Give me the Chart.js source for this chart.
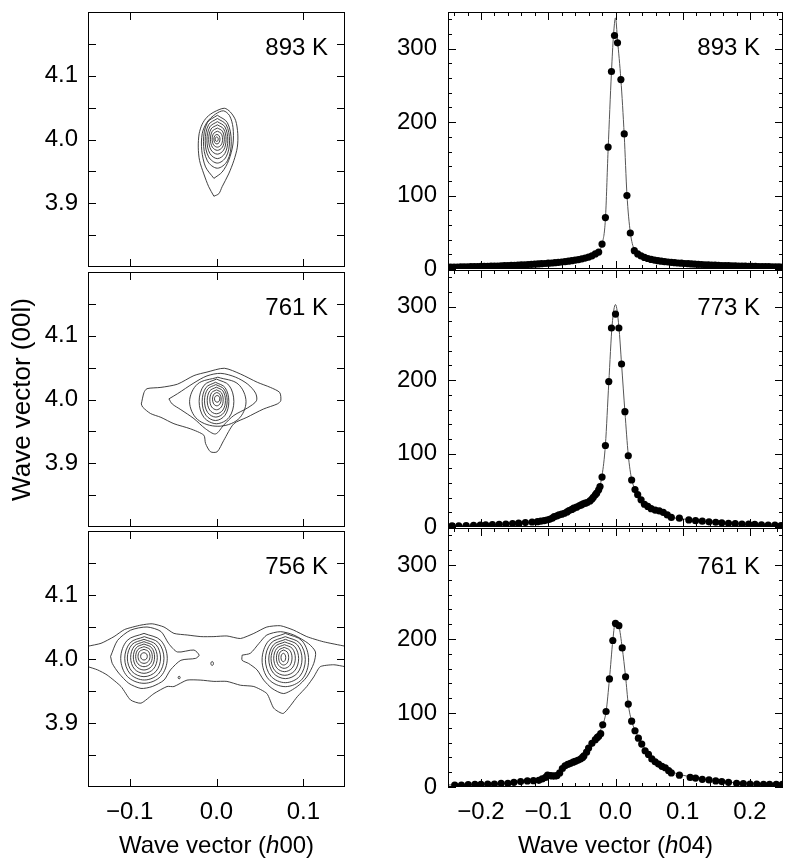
<!DOCTYPE html>
<html>
<head>
<meta charset="utf-8">
<script src="https://cdn.jsdelivr.net/npm/chart.js@4.4.0/dist/chart.umd.min.js"></script>
<style>
  html, body { margin: 0; padding: 0; background: #fff; }
  #wrap { position: relative; width: 787px; height: 859px; }
  #wrap canvas { position: absolute; left: 0; top: 0; }
</style>
</head>
<body>
<div id="wrap">
  <canvas id="map893" width="787" height="859"></canvas>
  <canvas id="map761" width="787" height="859"></canvas>
  <canvas id="map756" width="787" height="859"></canvas>
  <canvas id="scan893" width="787" height="859"></canvas>
  <canvas id="scan773" width="787" height="859"></canvas>
  <canvas id="scan761" width="787" height="859"></canvas>
</div>
<script>
// Scansioni (h04): punti misurati
const scan893X = [-0.250,-0.245,-0.240,-0.235,-0.230,-0.225,-0.220,-0.215,-0.210,-0.205,
  -0.200,-0.195,-0.190,-0.185,-0.180,-0.175,-0.170,-0.165,-0.160,-0.155,
  -0.150,-0.145,-0.140,-0.135,-0.130,-0.125,-0.120,-0.115,-0.110,-0.105,
  -0.100,-0.095,-0.090,-0.085,-0.080,-0.075,-0.070,-0.065,-0.060,-0.055,
  -0.050,-0.045,-0.040,-0.035,-0.030,
  -0.025,-0.020,-0.015,-0.011,-0.006,-0.0015,0.003,0.008,0.013,0.017,0.022,0.028,
  0.033,0.038,0.043,0.048,0.053,0.058,0.063,0.068,0.073,0.078,
  0.083,0.088,0.093,0.098,0.103,0.108,0.113,0.118,0.123,0.128,
  0.133,0.138,0.143,0.148,0.153,0.158,0.163,0.168,0.173,0.178,
  0.183,0.188,0.193,0.198,0.203,0.208,0.213,0.218,0.223,0.228,
  0.233,0.238,0.243,0.248];
const scan893Y = [2.5,2.5,2.6,2.7,2.8,2.9,3.0,3.1,3.2,3.3,
  3.5,3.6,3.7,3.8,4.0,4.1,4.3,4.5,4.7,4.9,
  5.1,5.3,5.5,5.8,6.0,6.3,6.6,6.9,7.2,7.5,
  7.9,8.2,8.6,9.0,9.5,10.0,10.6,11.3,12.0,12.8,
  13.8,14.9,16.2,18.0,20.5,
  23,34,70,166,269,318,308,258,184,100,49,25,
  20.5,17.8,15.8,14.3,13.1,12.1,11.3,10.6,10.0,9.5,
  9.0,8.6,8.2,7.9,7.5,7.2,6.9,6.6,6.3,6.1,
  5.8,5.6,5.4,5.2,5.0,4.8,4.6,4.5,4.3,4.2,
  4.0,3.9,3.8,3.7,3.6,3.5,3.4,3.3,3.2,3.1,
  3.0,2.9,2.8,2.7];
const fit893X = [-0.25,-0.15,-0.1,-0.06,-0.04,-0.03,-0.025,-0.02,-0.015,-0.011,-0.006,-0.003,0,0.003,0.008,0.013,0.017,0.022,0.028,0.035,0.05,0.1,0.15,0.25];
const fit893Y = [2.5,5,7.9,12,16,20.5,24,34,68,162,268,318,342,312,258,182,102,50,26,19,13.5,7.6,5.2,2.7];

const scan773X = [-0.243,-0.233,-0.222,-0.211,-0.201,-0.193,-0.183,-0.173,-0.163,-0.153,-0.144,-0.134,-0.124,-0.116,-0.111,-0.106,-0.102,-0.098,-0.094,-0.091,
  -0.087,-0.084,-0.080,-0.076,-0.072,-0.069,-0.065,-0.062,-0.058,-0.054,-0.051,-0.048,-0.045,-0.042,-0.038,-0.035,-0.033,-0.030,-0.028,-0.025,
  -0.023,-0.020,-0.015,-0.010,-0.006,0.000,0.005,0.009,0.014,0.019,0.024,0.029,0.033,0.038,0.043,0.048,0.053,0.059,0.065,0.071,
  0.077,0.083,0.095,0.109,0.119,0.129,0.139,0.149,0.158,0.168,0.178,0.188,0.198,0.207,0.217,0.227,0.237,0.246];
const scan773Y = [1.5,1.7,2.0,2.2,2.5,2.8,3.1,3.5,4.0,4.6,5.2,6.0,6.8,7.3,8.0,8.7,9.5,10.5,12,14,
  15.2,16.4,17.5,18.7,20.5,22.4,24,25.6,27,28.8,30,31.5,32.5,33.3,35.5,38,40.5,43.8,46,50.7,
  55,68,111,198,271,290,271,222,157,97,64,51,44,37,31,28,25,23,22,20,
  16.5,13,12,9.6,8.6,8,7,6.5,5.8,5,4.5,4,3.8,3.5,3,2.5,2.5,2];
const fit773X = [-0.25,-0.15,-0.1,-0.07,-0.05,-0.035,-0.025,-0.02,-0.015,-0.01,-0.005,0,0.005,0.009,0.014,0.019,0.024,0.03,0.04,0.06,0.08,0.1,0.15,0.25];
const fit773Y = [1.5,4.8,10,21,30,38,51,70,112,196,275,303,273,222,157,98,65,50,35,23,14,11,6.2,2];

const scan761X = [-0.239,-0.229,-0.219,-0.209,-0.200,-0.190,-0.180,-0.170,-0.160,-0.151,-0.141,-0.131,-0.122,-0.114,-0.109,-0.104,-0.101,-0.097,-0.094,-0.090,
  -0.087,-0.083,-0.079,-0.075,-0.071,-0.067,-0.063,-0.060,-0.056,-0.052,-0.049,-0.047,-0.043,-0.040,-0.035,-0.030,-0.027,-0.025,-0.022,-0.019,
  -0.014,-0.009,-0.004,0.000,0.005,0.010,0.015,0.019,0.024,0.029,0.034,0.039,0.044,0.049,0.054,0.059,0.064,0.069,0.074,0.079,
  0.083,0.095,0.111,0.119,0.129,0.139,0.149,0.158,0.168,0.180,0.190,0.200,0.210,0.220,0.229,0.239,0.248];
const scan761Y = [2.7,2.7,3.2,3.6,3.6,4,4,5,5,6.3,7.3,8.2,8.6,9,10.9,13,16,15.5,15,15,
  15.5,19,25,28.6,30.5,32,33.5,34.5,36,37.7,40,42,47,52.6,59,64,67,68.5,72,84,
  102,146,198,221,218,188,149,112,89,76,66,58,49,44,38,34,31,28,26,22,
  19,16,13,12,10.4,9.5,8.2,7.3,6.3,5,4.5,4,4,3.6,3.6,3.6,3.6];
const fit761X = [-0.25,-0.15,-0.11,-0.1,-0.09,-0.08,-0.06,-0.04,-0.03,-0.02,-0.014,-0.009,-0.004,0,0.005,0.01,0.015,0.019,0.024,0.03,0.04,0.06,0.08,0.1,0.15,0.25];
const fit761Y = [2.7,6.3,11,15.5,15.5,22,34.5,52,64,82,102,146,198,224,218,188,149,112,89,75,57,34,22,16,8,3.6];

// Mappe (h0l): contorni esterni come punti, anelli interni come estremi [sx, dx, alto, basso]
const map893Outer = [[-0.003,3.911],[-0.009,3.926],[-0.0146,3.946],[-0.0195,3.967],[-0.021,3.988],[-0.020,4.009],[-0.0165,4.024],[-0.011,4.035],[-0.003,4.043],[0.009,4.049],[0.016,4.043],[0.022,4.030],[0.0245,4.009],[0.024,3.988],[0.020,3.967],[0.014,3.946],[0.0065,3.926],[0.0027,3.915],[-0.003,3.911]];
const map893Second = [[-0.003,3.939],[-0.0126,3.957],[-0.017,3.983],[-0.0165,4.009],[-0.011,4.027],[-0.001,4.040],[0.008,4.045],[0.015,4.0375],[0.019,4.019],[0.019,3.993],[0.014,3.967],[0.0065,3.949],[-0.003,3.939]];
const map893Rings = [[-0.015,0.017,4.038,3.955],[-0.013,0.015,4.033,3.963],[-0.011,0.013,4.028,3.970],[-0.009,0.011,4.023,3.977],
  [-0.007,0.009,4.018,3.983],[-0.005,0.007,4.013,3.988],[-0.003,0.004,4.008,3.993],[-0.0015,0.002,4.004,3.997]];

const map761Outer = [[-0.0866,3.993],[-0.0835,4.011],[-0.080,4.017],[-0.064,4.019],[-0.045,4.024],[-0.026,4.0375],[-0.011,4.043],[0.009,4.049],[0.0276,4.040],[0.047,4.027],[0.062,4.019],[0.0728,4.011],[0.074,3.998],[0.070,3.993],[0.054,3.985],[0.035,3.972],[0.020,3.962],[0.0084,3.936],[0.0008,3.918],[-0.0069,3.918],[-0.0126,3.931],[-0.0146,3.944],[-0.030,3.954],[-0.049,3.962],[-0.064,3.972],[-0.076,3.978],[-0.085,3.988],[-0.0866,3.993]];
const map761Second = [[-0.0548,4.001],[-0.045,4.009],[-0.026,4.026],[-0.011,4.037],[0.005,4.041],[0.022,4.035],[0.036,4.024],[0.045,4.010],[0.046,3.998],[0.036,3.987],[0.020,3.975],[0.0084,3.960],[-0.0011,3.946],[-0.0126,3.954],[-0.026,3.970],[-0.041,3.984],[-0.051,3.993],[-0.0548,4.001]];
const map761Rings = [[-0.031,0.034,4.035,3.958],[-0.020,0.020,4.032,3.962],[-0.0165,0.0142,4.027,3.967],[-0.0138,0.0123,4.0234,3.9724],
  [-0.0107,0.0103,4.0193,3.9776],[-0.0077,0.0077,4.0151,3.9839],[-0.0046,0.0054,4.011,3.9901],[-0.0023,0.0038,4.0063,3.9958]];

const map756Band = [[-0.148,4.020],[-0.133,4.0245],[-0.118,4.035],[-0.106,4.046],[-0.087,4.053],[-0.074,4.055],[-0.0605,4.050],[-0.049,4.040],[-0.0337,4.0375],[-0.018,4.035],[-0.003,4.035],[0.012,4.036],[0.0276,4.032],[0.043,4.040],[0.058,4.050],[0.0736,4.052],[0.089,4.045],[0.104,4.035],[0.123,4.027],[0.148,4.020]];
const map756BandLow = [[0.148,3.988],[0.135,3.991],[0.1195,3.988],[0.112,3.972],[0.104,3.957],[0.093,3.941],[0.077,3.915],[0.066,3.923],[0.058,3.946],[0.043,3.957],[0.0276,3.959],[0.012,3.965],[-0.003,3.965],[-0.018,3.967],[-0.034,3.967],[-0.049,3.957],[-0.057,3.957],[-0.072,3.946],[-0.087,3.931],[-0.099,3.936],[-0.110,3.957],[-0.126,3.975],[-0.137,3.983],[-0.148,3.988]];
const map756LeftSecond = [[-0.122,4.004],[-0.114,4.029],[-0.099,4.045],[-0.080,4.050],[-0.064,4.043],[-0.055,4.024],[-0.045,4.011],[-0.026,4.014],[-0.020,4.006],[-0.024,4.001],[-0.041,3.998],[-0.053,3.983],[-0.0605,3.967],[-0.074,3.957],[-0.087,3.954],[-0.101,3.962],[-0.1126,3.978],[-0.12,3.993],[-0.122,4.004]];
const map756RightSecond = [[0.0295,4.006],[0.039,4.009],[0.0487,4.024],[0.058,4.0375],[0.0736,4.0427],[0.089,4.0375],[0.106,4.024],[0.114,4.011],[0.112,3.993],[0.104,3.972],[0.093,3.957],[0.0774,3.946],[0.064,3.954],[0.0544,3.967],[0.0467,3.983],[0.037,3.993],[0.0295,3.998],[0.0295,4.006]];
const map756Rings = [[-0.1103,-0.0567,4.040,3.962],[-0.1057,-0.0605,4.0349,3.9672],[-0.1027,-0.0644,4.0307,3.9724],[-0.0989,-0.0682,4.0271,3.9776],
  [-0.0958,-0.0713,4.0234,3.9828],[-0.0931,-0.0739,4.0193,3.988],[-0.0904,-0.0766,4.0151,3.9932],[-0.0874,-0.0797,4.0099,3.9984],
  [0.0525,0.1061,4.040,3.9568],[0.0563,0.1023,4.0349,3.963],[0.0602,0.0985,4.0307,3.9693],[0.0628,0.0946,4.0266,3.9745],
  [0.0659,0.0908,4.0224,3.9802],[0.069,0.087,4.0182,3.9854],[0.0716,0.0831,4.0141,3.9906],[0.0743,0.0797,4.0089,3.9958],
  [-0.0065,-0.0035,3.996,3.990],[-0.0442,-0.0418,3.973,3.969]];

// Tacche degli assi
const leftXTicks = [-0.1, 0, 0.1];
const leftYTicks = [3.85, 3.9, 3.95, 4.0, 4.05, 4.1, 4.15];
const leftYLabels = [3.9, 4.0, 4.1];
const rightXTicks = [-0.24,-0.22,-0.2,-0.18,-0.16,-0.14,-0.12,-0.1,-0.08,-0.06,-0.04,-0.02,0,0.02,0.04,0.06,0.08,0.1,0.12,0.14,0.16,0.18,0.2,0.22,0.24];
const rightXLabels = [-0.2, -0.1, 0, 0.1, 0.2];
const rightYTicks = [0,20,40,60,80,100,120,140,160,180,200,220,240,260,280,300,320,340];
const rightYLabels = [0, 100, 200, 300];

const FONT = '"Liberation Sans", Arial, Helvetica, sans-serif';

function hasVal(list, v) { return list.some(m => Math.abs(m - v) < 1e-9); }
function toPts(xs, ys) { return xs.map((x, i) => ({ x: x, y: ys[i] })); }
function listPts(list) { return list.map(p => ({ x: p[0], y: p[1] })); }
// anello chiuso a partire dagli estremi letti
function ringPts(e) {
  const cx = (e[0] + e[1]) / 2, cy = (e[2] + e[3]) / 2;
  const hx = (e[1] - e[0]) / 2, hy = (e[2] - e[3]) / 2, k = 0.72;
  return [
    { x: cx, y: e[2] }, { x: cx + k * hx, y: cy + k * hy }, { x: e[1], y: cy },
    { x: cx + k * hx, y: cy - k * hy }, { x: cx, y: e[3] }, { x: cx - k * hx, y: cy - k * hy },
    { x: e[0], y: cy }, { x: cx - k * hx, y: cy + k * hy }, { x: cx, y: e[2] }
  ];
}

function contour(pts, tension) {
  return { data: pts, showLine: true, pointRadius: 0, borderColor: '#2b2b2b', borderWidth: 0.9, tension: tension, fill: false };
}
function scanSets(xs, ys, fx, fy) {
  return [
    { data: toPts(xs, ys), showLine: false, pointRadius: 3.6, pointBackgroundColor: '#000', pointBorderWidth: 0 },
    { data: toPts(fx, fy), showLine: true, pointRadius: 0, borderColor: '#555', borderWidth: 1, cubicInterpolationMode: 'monotone' }
  ];
}

// Cornice, tacche interne, etichetta della temperatura, titolo asse x
function framePlugin(cfg) {
  return {
    id: 'frame',
    afterDraw(chart) {
      const a = chart.chartArea, ctx = chart.ctx;
      const sx = chart.scales.x, sy = chart.scales.y;
      ctx.save();
      ctx.strokeStyle = '#000';
      ctx.lineWidth = 1;
      ctx.strokeRect(a.left + 0.5, a.top + 0.5, a.right - a.left - 1, a.bottom - a.top - 1);
      ctx.beginPath();
      cfg.xTicks.forEach(v => {
        const p = Math.round(sx.getPixelForValue(v)) + 0.5;
        const len = hasVal(cfg.xMajor, v) ? cfg.majorLen : cfg.minorLen;
        ctx.moveTo(p, a.top); ctx.lineTo(p, a.top + len);
        ctx.moveTo(p, a.bottom); ctx.lineTo(p, a.bottom - len);
      });
      cfg.yTicks.forEach(v => {
        const p = Math.round(sy.getPixelForValue(v)) + 0.5;
        const len = hasVal(cfg.yMajor, v) ? cfg.majorLen : cfg.minorLen;
        ctx.moveTo(a.left, p); ctx.lineTo(a.left + len, p);
        ctx.moveTo(a.right, p); ctx.lineTo(a.right - len, p);
      });
      ctx.stroke();
      ctx.fillStyle = '#000';
      ctx.font = '24px ' + FONT;
      ctx.textAlign = 'right';
      ctx.textBaseline = 'alphabetic';
      ctx.fillText(cfg.label, a.right - cfg.labelInset, a.top + cfg.labelDy);
      if (cfg.xTitle) {
        const parts = cfg.xTitle;
        let w = 0;
        parts.forEach(p => { ctx.font = p[1] + ' 24px ' + FONT; w += ctx.measureText(p[0]).width; });
        let x = (a.left + a.right) / 2 - w / 2;
        ctx.textAlign = 'left';
        parts.forEach(p => {
          ctx.font = p[1] + ' 24px ' + FONT;
          ctx.fillText(p[0], x, 853);
          x += ctx.measureText(p[0]).width;
        });
      }
      ctx.restore();
    }
  };
}

function makePanel(id, p) {
  new Chart(document.getElementById(id), {
    type: 'scatter',
    data: { datasets: p.datasets },
    options: {
      responsive: false,
      animation: false,
      events: [],
      layout: { padding: p.pad },
      plugins: { legend: { display: false }, tooltip: { enabled: false } },
      scales: {
        x: {
          type: 'linear', min: p.xMin, max: p.xMax, display: p.showX,
          afterBuildTicks: s => { s.ticks = p.xTicks.map(v => ({ value: v })); },
          afterFit: s => { s.height = p.showX ? 72 : 0; s.paddingLeft = 0; s.paddingRight = 0; },
          grid: { display: false, drawTicks: false },
          border: { display: false },
          ticks: {
            autoSkip: false, maxRotation: 0, padding: 11, color: '#000',
            font: { family: FONT, size: 24 },
            callback: v => hasVal(p.xLabels, v) ? (v < -1e-9 ? '\u2212' : '') + Math.abs(v).toFixed(1) : ''
          }
        },
        y: {
          type: 'linear', min: p.yMin, max: p.yMax,
          afterBuildTicks: s => { s.ticks = p.yTicks.map(v => ({ value: v })); },
          afterFit: s => { s.width = p.yWidth; s.paddingTop = 0; s.paddingBottom = 0; },
          grid: { display: false, drawTicks: false },
          border: { display: false },
          title: {
            display: !!p.yTitle, text: p.yTitle || '', color: '#000',
            font: { family: FONT, size: 26 }, padding: { top: 7, bottom: 0 }
          },
          ticks: {
            autoSkip: false, padding: p.yPad, color: '#000',
            font: { family: FONT, size: 24 },
            callback: v => hasVal(p.yLabels, v) ? p.yFormat(v) : ''
          }
        }
      }
    },
    plugins: [framePlugin({
      xTicks: p.xTicks, xMajor: p.xMajor, yTicks: p.yTicks, yMajor: p.yMajor,
      majorLen: 8, minorLen: p.minorLen, label: p.label, labelInset: p.labelInset,
      labelDy: p.labelDy, xTitle: p.xTitle
    })]
  });
}

const leftBase = {
  xMin: -0.148, xMax: 0.148, yMin: 3.8, yMax: 4.2,
  xTicks: leftXTicks, xMajor: leftXTicks, xLabels: leftXTicks,
  yTicks: leftYTicks, yMajor: leftYTicks, yLabels: leftYLabels,
  yWidth: 88, yPad: 10, minorLen: 8, labelInset: 17, labelDy: 43,
  yFormat: v => v.toFixed(1)
};
const rightBase = {
  xMin: -0.249, xMax: 0.249, yMin: 0, yMax: 350,
  xTicks: rightXTicks, xMajor: rightXLabels, xLabels: rightXLabels,
  yTicks: rightYTicks, yMajor: rightYLabels, yLabels: rightYLabels,
  yWidth: 80, yPad: 11, minorLen: 4, labelInset: 23, labelDy: 43,
  yFormat: v => String(v)
};

makePanel('map893', Object.assign({}, leftBase, {
  pad: { left: 0, right: 442, top: 12, bottom: 592 }, showX: false, label: '893 K',
  datasets: [contour(listPts(map893Outer), 0.3), contour(listPts(map893Second), 0.3)]
    .concat(map893Rings.map(e => contour(ringPts(e), 0.35)))
}));
makePanel('map761', Object.assign({}, leftBase, {
  pad: { left: 0, right: 442, top: 272, bottom: 332 }, showX: false, label: '761 K',
  yTitle: 'Wave vector (00l)',
  datasets: [contour(listPts(map761Outer), 0.25), contour(listPts(map761Second), 0.3)]
    .concat(map761Rings.map(e => contour(ringPts(e), 0.35)))
}));
makePanel('map756', Object.assign({}, leftBase, {
  pad: { left: 0, right: 442, top: 531, bottom: 0 }, showX: true, label: '756 K',
  xTitle: [['Wave vector (', 'normal'], ['h', 'italic'], ['00)', 'normal']],
  datasets: [contour(listPts(map756Band), 0.2), contour(listPts(map756BandLow), 0.2),
    contour(listPts(map756LeftSecond), 0.25), contour(listPts(map756RightSecond), 0.25)]
    .concat(map756Rings.map(e => contour(ringPts(e), 0.35)))
}));

makePanel('scan893', Object.assign({}, rightBase, {
  pad: { left: 368, right: 1, top: 12, bottom: 590 }, showX: false, label: '893 K',
  datasets: scanSets(scan893X, scan893Y, fit893X, fit893Y)
}));
makePanel('scan773', Object.assign({}, rightBase, {
  pad: { left: 368, right: 1, top: 270, bottom: 332 }, showX: false, label: '773 K', labelDy: 45,
  datasets: scanSets(scan773X, scan773Y, fit773X, fit773Y)
}));
makePanel('scan761', Object.assign({}, rightBase, {
  pad: { left: 368, right: 1, top: 528, bottom: 0 }, showX: true, label: '761 K', labelDy: 46,
  xTitle: [['Wave vector (', 'normal'], ['h', 'italic'], ['04)', 'normal']],
  datasets: scanSets(scan761X, scan761Y, fit761X, fit761Y)
}));
</script>
</body>
</html>
